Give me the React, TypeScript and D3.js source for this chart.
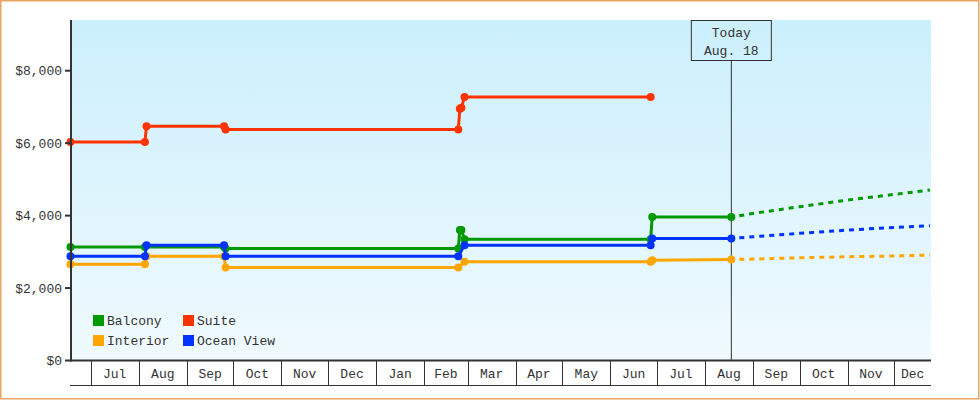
import * as d3 from 'd3';

// Price history (step changes) per cabin type
const BALCONY_DATES = ['2013-06-18', '2013-08-05', '2013-09-25', '2013-09-26', '2014-02-23', '2014-02-24', '2014-02-25', '2014-02-27', '2014-06-27', '2014-06-28', '2014-08-18'];
const BALCONY_PRICES = [3135, 3135, 3135, 3095, 3095, 3600, 3600, 3345, 3345, 3960, 3960];

const INTERIOR_DATES = ['2013-06-18', '2013-08-05', '2013-08-06', '2013-09-25', '2013-09-26', '2014-02-23', '2014-02-27', '2014-06-27', '2014-06-28', '2014-08-18'];
const INTERIOR_PRICES = [2660, 2660, 2880, 2880, 2570, 2570, 2725, 2725, 2770, 2790];

const SUITE_DATES = ['2013-06-18', '2013-08-05', '2013-08-06', '2013-09-25', '2013-09-26', '2014-02-23', '2014-02-24', '2014-02-25', '2014-02-27', '2014-06-27'];
const SUITE_PRICES = [6035, 6035, 6470, 6470, 6380, 6380, 6950, 6980, 7275, 7275];

const OCEAN_DATES = ['2013-06-18', '2013-08-05', '2013-08-06', '2013-09-25', '2013-09-26', '2014-02-23', '2014-02-27', '2014-06-27', '2014-06-28', '2014-08-18'];
const OCEAN_PRICES = [2880, 2880, 3185, 3185, 2880, 2880, 3185, 3185, 3370, 3370];

// Forecast (dotted)
const FORECAST_DATES = ['2014-08-18', '2014-09-01', '2014-10-01', '2014-11-01', '2014-12-01', '2014-12-24'];
const BALCONY_FORECAST = [3960, 4060, 4245, 4430, 4585, 4705];
const INTERIOR_FORECAST = [2790, 2800, 2835, 2865, 2885, 2910];
const OCEAN_FORECAST = [3370, 3415, 3510, 3600, 3675, 3720];

const Y_TICKS = [0, 2000, 4000, 6000, 8000];
const TODAY = '2014-08-18';
const TODAY_LABEL = ['Today', 'Aug. 18'];

const COLORS = {
  Balcony: '#009900',
  Suite: '#ff3300',
  Interior: '#ffa500',
  'Ocean View': '#0033ff',
};

const parse = d3.timeParse('%Y-%m-%d');
const FONT = '"Liberation Mono", "DejaVu Sans Mono", monospace';

type Pt = { date: Date; value: number };
const zip = (dates: string[], values: number[]): Pt[] =>
  dates.map((d, i) => ({ date: parse(d)!, value: values[i] }));

const series = [
  { name: 'Balcony', pts: zip(BALCONY_DATES, BALCONY_PRICES), fc: zip(FORECAST_DATES, BALCONY_FORECAST) },
  { name: 'Interior', pts: zip(INTERIOR_DATES, INTERIOR_PRICES), fc: zip(FORECAST_DATES, INTERIOR_FORECAST) },
  { name: 'Ocean View', pts: zip(OCEAN_DATES, OCEAN_PRICES), fc: zip(FORECAST_DATES, OCEAN_FORECAST) },
  { name: 'Suite', pts: zip(SUITE_DATES, SUITE_PRICES), fc: [] as Pt[] },
];

const LEGEND = [
  ['Balcony', 'Suite'],
  ['Interior', 'Ocean View'],
];

export default function App() {
  const width = 980;
  const height = 400;
  const left = 71;
  const right = 931;
  const top = 20;
  const bottom = 360.5;

  const x = d3
    .scaleTime()
    .domain([new Date(2013, 5, 18, 8), new Date(2014, 11, 24, 17)])
    .range([left, right]);
  const y = d3.scaleLinear().domain([0, 9400]).range([bottom, top]);

  const line = d3
    .line<Pt>()
    .x((d) => x(d.date))
    .y((d) => y(d.value));

  const months = d3.timeMonth.range(new Date(2013, 6, 1), new Date(2014, 11, 2));
  const todayX = x(parse(TODAY)!);

  return (
    <div style={{ position: 'absolute', left: 0, top: 0 }}>
      <svg width={width} height={height} style={{ display: 'block', fontFamily: FONT }}>
        <defs>
          <linearGradient id="bg" x1="0" y1="0" x2="0" y2="1">
            <stop offset="0%" stopColor="#cbeffc" />
            <stop offset="100%" stopColor="#f0faff" />
          </linearGradient>
        </defs>
        <rect x={0} y={0} width={width} height={height} fill="#fff" />
        <rect x={0.75} y={0.75} width={978} height={398} fill="none" stroke="#e8a662" strokeWidth={1.5} />
        <rect x={left} y={top} width={right - left} height={bottom - top} fill="url(#bg)" />

        {/* today marker */}
        <line x1={todayX} x2={todayX} y1={60} y2={bottom} stroke="#333" strokeWidth={1} />
        <rect x={todayX - 40} y={20.5} width={80} height={40} fill="none" stroke="#333" strokeWidth={1} />
        {TODAY_LABEL.map((t, i) => (
          <text key={t} x={todayX} y={37 + i * 18} textAnchor="middle" fontSize={13} fill="#333">
            {t}
          </text>
        ))}

        {/* forecast */}
        {series
          .filter((s) => s.fc.length)
          .map((s) => (
            <path
              key={s.name + 'fc'}
              d={line(s.fc.slice(0)) || ''}
              fill="none"
              stroke={COLORS[s.name as keyof typeof COLORS]}
              strokeWidth={3}
              strokeDasharray="5,5"
              strokeDashoffset={-8}
            />
          ))}

        {/* history */}
        {series.map((s) => {
          const c = COLORS[s.name as keyof typeof COLORS];
          return (
            <g key={s.name}>
              <path d={line(s.pts) || ''} fill="none" stroke={c} strokeWidth={3} />
              {s.pts.map((p, i) => (
                <circle key={i} cx={x(p.date)} cy={y(p.value)} r={4} fill={c} />
              ))}
            </g>
          );
        })}

        {/* y axis */}
        <line x1={left} x2={left} y1={top} y2={bottom + 1} stroke="#333" strokeWidth={2} />
        {Y_TICKS.map((t) => (
          <g key={t}>
            <line x1={left - 6} x2={left} y1={y(t)} y2={y(t)} stroke="#333" strokeWidth={2} />
            <text x={left - 9} y={y(t) + 4.5} textAnchor="end" fontSize={13} fill="#333">
              {d3.format('$,')(t)}
            </text>
          </g>
        ))}

        {/* x axis band */}
        <line x1={70} x2={right} y1={bottom} y2={bottom} stroke="#333" strokeWidth={2} />
        <line x1={70} x2={right} y1={385.5} y2={385.5} stroke="#333" strokeWidth={1} />
        {months.map((m) => {
          const mx = Math.round(x(m)) + 0.5;
          const next = Math.min(x(d3.timeMonth.offset(m, 1)), right);
          return (
            <g key={m.getTime()}>
              <line x1={mx} x2={mx} y1={bottom} y2={385.5} stroke="#333" strokeWidth={1} />
              <text x={(x(m) + next) / 2} y={378} textAnchor="middle" fontSize={13} fill="#333">
                {d3.timeFormat('%b')(m)}
              </text>
            </g>
          );
        })}

        {/* legend */}
        {LEGEND.map((row, ri) =>
          row.map((name, ci) => (
            <g key={name} transform={`translate(${93 + ci * 90},${315 + ri * 20})`}>
              <rect x={0} y={0} width={11} height={11} fill={COLORS[name as keyof typeof COLORS]} />
              <text x={14} y={10} fontSize={13} fill="#333">
                {name}
              </text>
            </g>
          ))
        )}
      </svg>
    </div>
  );
}
